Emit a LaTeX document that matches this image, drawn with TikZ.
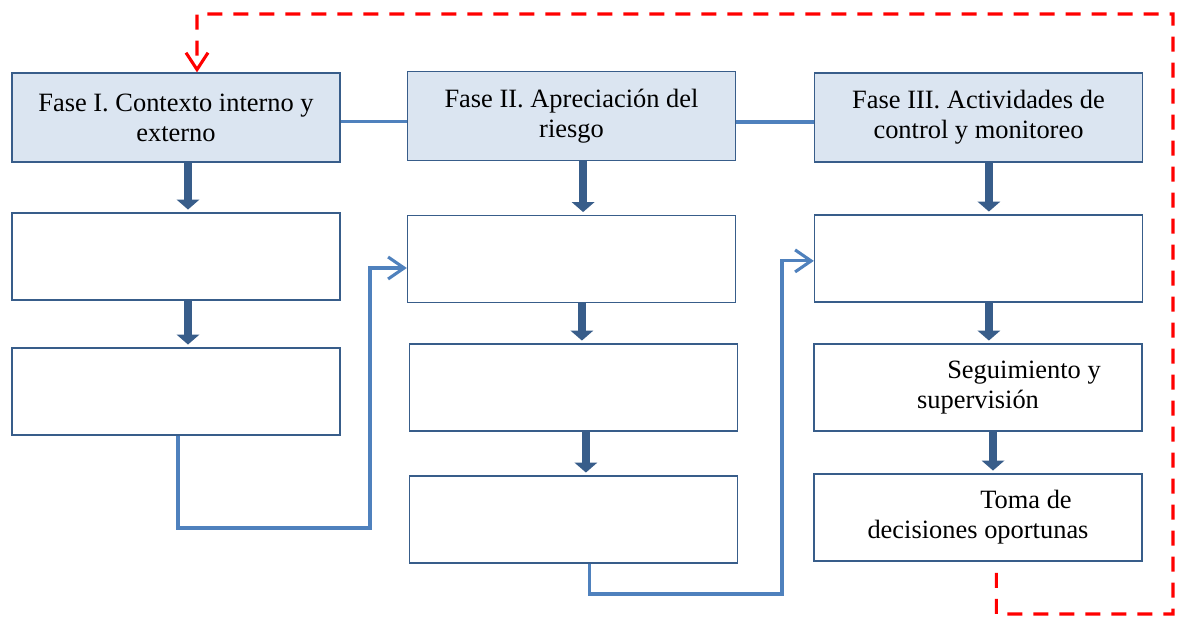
\documentclass[tikz,border=0pt]{standalone}
\usepackage{fontspec}
\setmainfont{Liberation Serif}
\usepackage{tikz}
\usetikzlibrary{arrows.meta}
\definecolor{boxline}{HTML}{385D8A}
\definecolor{boxfill}{HTML}{DBE5F1}
\definecolor{linkblue}{HTML}{4F81BD}
\definecolor{flowred}{HTML}{FF0000}

\begin{document}
\begin{tikzpicture}[x=0.025cm,y=-0.025cm,
        box/.style={draw=boxline,line width=0.9pt,minimum width=8.2cm,minimum height=2.175cm,
            inner sep=0pt,align=center,font=\fontsize{18.8}{21.3}\selectfont},
        phase/.style={box,fill=boxfill,minimum height=2.225cm},
        down/.style={boxline,line width=0.2cm,-{Triangle[width=0.56cm,length=0.25cm]},shorten >=0.07cm},
        link/.style={linkblue,line width=2.2pt,-{Straight Barb[length=0.4cm,width=0.55cm]}},
        back/.style={flowred,line width=2.2pt,dash pattern=on 0.375cm off 0.275cm,
            -{Straight Barb[length=0.42cm,width=0.55cm]}}]

        \useasboundingbox (0,0) rectangle (1184,617);

        % phases
        \node[phase] (fase1) at (176,117.5) {Fase I. Contexto interno y\\externo};
        \node[phase] (fase2) at (571.5,116) {Fase II. Apreciación del\\riesgo};
        \node[phase] (fase3) at (978.5,117.5) {Fase III. Actividades de\\control y monitoreo};

        % columns
        \node[box] (i1) at (176,256.5) {};
        \node[box] (i2) at (176,391.5) {};
        \node[box] (ii1) at (571.5,259) {};
        \node[box] (ii2) at (573.5,387.5) {};
        \node[box] (ii3) at (573.5,519.5) {};
        \node[box] (iii1) at (978.5,258.5) {};
        \node[box] (iii2) at (978,387.5) {\hspace*{2.3cm}Seguimiento y\\supervisión};
        \node[box] (iii3) at (978,517.5) {\hspace*{2.4cm}Toma de\\decisiones oportunas};

        \draw[linkblue,line width=2.2pt] ([yshift=-0.11cm]fase1.east) -- ([yshift=-0.11cm]fase1.east -| fase2.west);
        \draw[linkblue,line width=2.2pt] ([yshift=-0.15cm]fase2.east) -- ([yshift=-0.15cm]fase2.east -| fase3.west);

        \draw[down] ([xshift=0.3cm]fase1.south) -- ([xshift=0.3cm]fase1.south |- i1.north);
        \draw[down] ([xshift=0.3cm]i1.south) -- ([xshift=0.3cm]i1.south |- i2.north);
        \draw[down] ([xshift=0.29cm]fase2.south) -- ([xshift=0.29cm]fase2.south |- ii1.north);
        \draw[down] ([xshift=0.26cm]ii1.south) -- ([xshift=0.26cm]ii1.south |- ii2.north);
        \draw[down] ([xshift=0.31cm]ii2.south) -- ([xshift=0.31cm]ii2.south |- ii3.north);
        \draw[down] ([xshift=0.26cm]fase3.south) -- ([xshift=0.26cm]fase3.south |- iii1.north);
        \draw[down] ([xshift=0.26cm]iii1.south) -- ([xshift=0.26cm]iii1.south |- iii2.north);
        \draw[down] ([xshift=0.375cm]iii2.south) -- ([xshift=0.375cm]iii2.south |- iii3.north);

        % links between columns
        \coordinate (j1) at (370,528);
        \coordinate (j2) at (782,594);
        \draw[link] ([xshift=0.05cm]i2.south) |- (j1) |- ([yshift=-0.225cm]ii1.west);
        \draw[link] ([xshift=0.39cm]ii3.south) |- (j2) |- ([yshift=-0.06cm]iii1.west);

        % feedback
        \coordinate (r1) at (1173,614);
        \coordinate (r2) at (197,14);
        \draw[back] ([xshift=0.46cm,yshift=-0.28cm]iii3.south) |- (r1) |- (r2) -- ([xshift=0.525cm]fase1.north);
    \end{tikzpicture}
\end{document}
